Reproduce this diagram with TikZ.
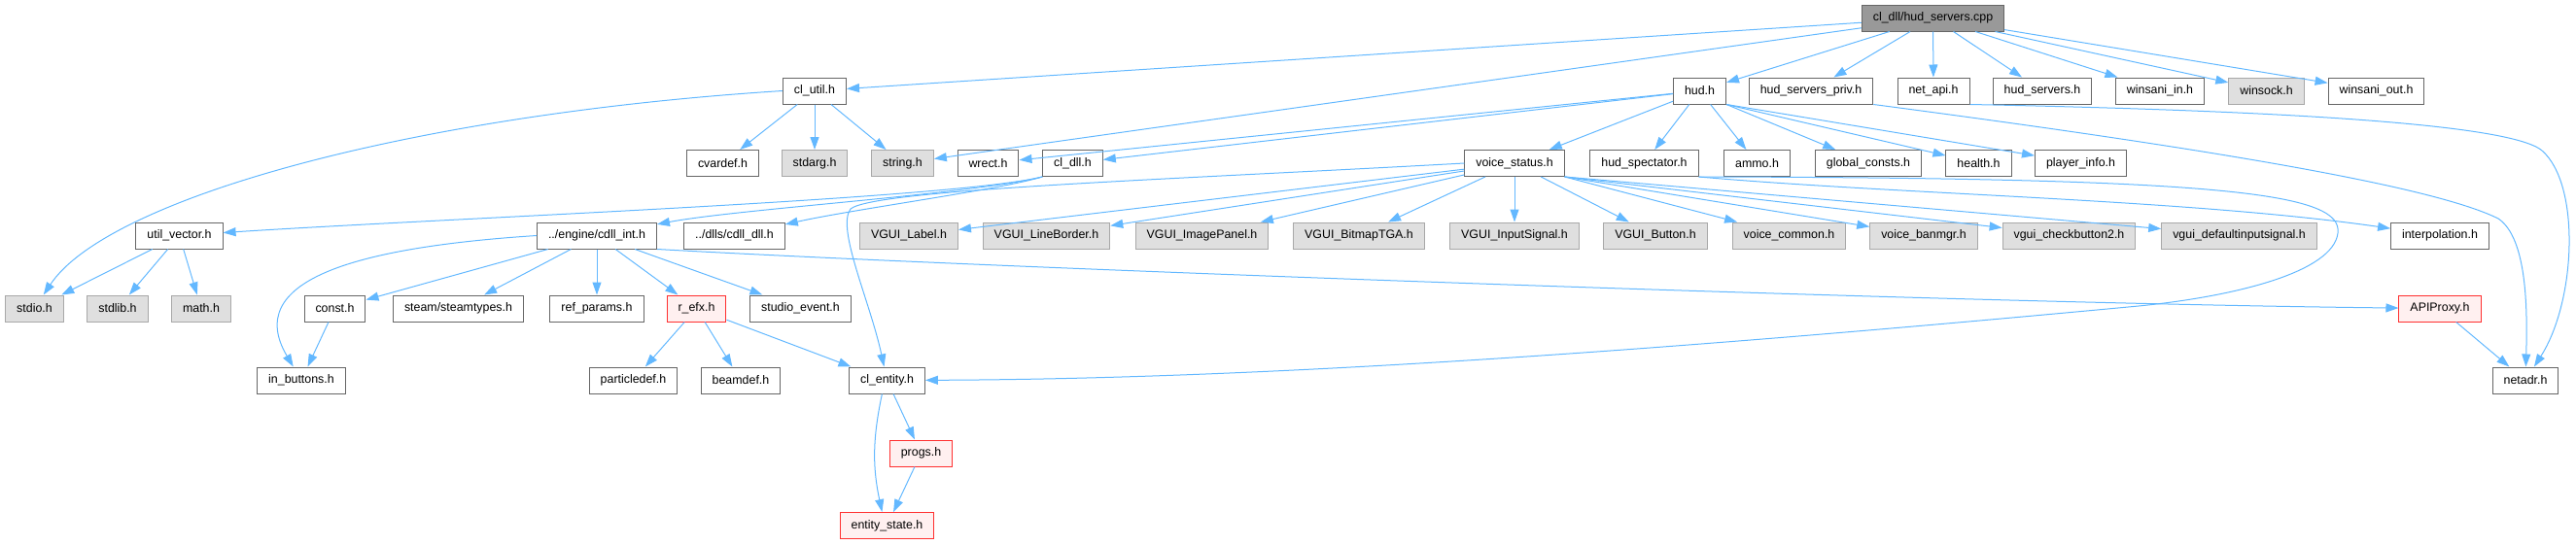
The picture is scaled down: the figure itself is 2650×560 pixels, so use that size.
\documentclass[tikz,border=0pt]{standalone}
\usepackage{fontspec}
\setmainfont{Liberation Sans}
\usepackage{tikz}
\usetikzlibrary{arrows.meta}
\definecolor{dxEdge}{HTML}{63B8FF}
\definecolor{dxLine}{HTML}{666666}
\definecolor{dxExtLine}{HTML}{A8A8A8}
\definecolor{dxExtFill}{HTML}{DFDFDF}
\definecolor{dxRoot}{HTML}{999999}
\definecolor{dxCut}{HTML}{FFF0F0}
\definecolor{dxCutLine}{HTML}{FF3030}

\begin{document}
\begin{tikzpicture}[x=1pt,y=-1pt,
  hdr/.style={draw=dxLine, fill=white, line width=1pt, minimum height=27pt,
    inner xsep=11.5pt, inner ysep=0pt, font=\fontsize{12.4}{14}\selectfont},
  exthdr/.style={hdr, draw=dxExtLine, fill=dxExtFill},
  cuthdr/.style={hdr, draw=dxCutLine, fill=dxCut},
  roothdr/.style={hdr, fill=dxRoot},
  inc/.style={draw=dxEdge, line width=1pt, -{Triangle[length=13pt,width=9pt]}}]
\useasboundingbox (0,0) rectangle (2650,560);
\node[roothdr] (root) at (1988.5,18.5) {cl\_dll/hud\_servers.cpp};
\node[hdr] (cutil) at (838,93.5) {cl\_util.h};
\node[hdr] (hud) at (1748.5,93.5) {hud.h};
\node[hdr] (hspriv) at (1863,93.5) {hud\_servers\_priv.h};
\node[hdr] (netapi) at (1989,93.5) {net\_api.h};
\node[hdr] (hserv) at (2101,93.5) {hud\_servers.h};
\node[hdr] (wsin) at (2222,93.5) {winsani\_in.h};
\node[exthdr] (wsock) at (2331.5,93.5) {winsock.h};
\node[hdr] (wsout) at (2444.5,93.5) {winsani\_out.h};
\node[hdr] (cvardef) at (743.5,168) {cvardef.h};
\node[exthdr] (stdarg) at (838,168) {stdarg.h};
\node[exthdr] (strh) at (928.5,168) {string.h};
\node[hdr] (wrect) at (1016.5,168) {wrect.h};
\node[hdr] (cldll) at (1103.5,168) {cl\_dll.h};
\node[hdr] (vstat) at (1558,168) {voice\_status.h};
\node[hdr] (hspec) at (1691.5,168) {hud\_spectator.h};
\node[hdr] (ammo) at (1807.5,168) {ammo.h};
\node[hdr] (gconst) at (1922,168) {global\_consts.h};
\node[hdr] (health) at (2035.5,168) {health.h};
\node[hdr] (pinfo) at (2140.5,168) {player\_info.h};
\node[hdr] (uvec) at (184.5,242.5) {util\_vector.h};
\node[hdr] (cdllint) at (614,242.5) {../engine/cdll\_int.h};
\node[hdr] (cdlldll) at (755.5,242.5) {../dlls/cdll\_dll.h};
\node[exthdr] (vlabel) at (935,242.5) {VGUI\_Label.h};
\node[exthdr] (vlborder) at (1076.5,242.5) {VGUI\_LineBorder.h};
\node[exthdr] (vipanel) at (1236.5,242.5) {VGUI\_ImagePanel.h};
\node[exthdr] (vbitmap) at (1398,242.5) {VGUI\_BitmapTGA.h};
\node[exthdr] (vinput) at (1558,242.5) {VGUI\_InputSignal.h};
\node[exthdr] (vbutton) at (1703,242.5) {VGUI\_Button.h};
\node[exthdr] (vcommon) at (1840.5,242.5) {voice\_common.h};
\node[exthdr] (vbanmgr) at (1979,242.5) {voice\_banmgr.h};
\node[exthdr] (vcheck) at (2128.5,242.5) {vgui\_checkbutton2.h};
\node[exthdr] (vdefin) at (2303.5,242.5) {vgui\_defaultinputsignal.h};
\node[hdr] (interp) at (2510,242.5) {interpolation.h};
\node[exthdr] (stdio) at (35.5,317.5) {stdio.h};
\node[exthdr] (stdlib) at (121,317.5) {stdlib.h};
\node[exthdr] (mathh) at (207,317.5) {math.h};
\node[hdr] (consth) at (344.5,317.5) {const.h};
\node[hdr] (steam) at (471.5,317.5) {steam/steamtypes.h};
\node[hdr] (refp) at (614,317.5) {ref\_params.h};
\node[cuthdr] (refx) at (716.5,317.5) {r\_efx.h};
\node[hdr] (studio) at (823.5,317.5) {studio\_event.h};
\node[cuthdr] (apiproxy) at (2510,317.5) {APIProxy.h};
\node[hdr] (inbtn) at (310,391.5) {in\_buttons.h};
\node[hdr] (partdef) at (651.5,391.5) {particledef.h};
\node[hdr] (beamdef) at (762,391.5) {beamdef.h};
\node[hdr] (clent) at (912.5,391.5) {cl\_entity.h};
\node[hdr] (netadr) at (2598,391.5) {netadr.h};
\node[cuthdr] (progs) at (947.5,466.5) {progs.h};
\node[cuthdr] (estate) at (912.5,541) {entity\_state.h};

\draw[inc] (root) -- (cutil);
\draw[inc] (root) -- (strh);
\draw[inc] (root) -- (hud);
\draw[inc] (root) -- (hspriv);
\draw[inc] (root) -- (netapi);
\draw[inc] (root) -- (hserv);
\draw[inc] (root) -- (wsin);
\draw[inc] (root) -- (wsock);
\draw[inc] (root) -- (wsout);
\draw[inc] (cutil) -- (cvardef);
\draw[inc] (cutil) -- (stdarg);
\draw[inc] (cutil) -- (strh);
\draw[inc] (cutil.west) .. controls (420,118) and (110,205) .. (stdio);
\draw[inc] (hud) -- (wrect);
\draw[inc] (hud) -- (cldll);
\draw[inc] (hud) -- (vstat);
\draw[inc] (hud) -- (hspec);
\draw[inc] (hud) -- (ammo);
\draw[inc] (hud.south east) -- (gconst);
\draw[inc] (hud.south east) -- (health);
\draw[inc] (hud.south east) -- (pinfo);
\draw[inc] (hspriv.south east) .. controls (2250,150) and (2500,190) .. (2570,225)
  .. controls (2600,245) and (2600,320) .. (netadr);
\draw[inc] (netapi.south east) .. controls (2300,113) and (2580,125) .. (2615,155)
  .. controls (2655,190) and (2650,310) .. (netadr);
\draw[inc] (cldll.south west) .. controls (980,205) and (450,225) .. (uvec);
\draw[inc] (cldll.south west) .. controls (1000,200) and (760,215) .. (cdllint);
\draw[inc] (cldll.south west) .. controls (1030,195) and (880,215) .. (cdlldll);
\draw[inc] (vstat.west) .. controls (1200,185) and (900,195) .. (875,215)
  .. controls (860,235) and (895,310) .. (clent);
\draw[inc] (vstat) -- (vlabel);
\draw[inc] (vstat) -- (vlborder);
\draw[inc] (vstat) -- (vipanel);
\draw[inc] (vstat) -- (vbitmap);
\draw[inc] (vstat) -- (vinput);
\draw[inc] (vstat) -- (vbutton);
\draw[inc] (vstat.south east) -- (vcommon);
\draw[inc] (vstat.south east) -- (vbanmgr);
\draw[inc] (vstat.south east) -- (vcheck);
\draw[inc] (vstat.south east) -- (vdefin);
\draw[inc] (hspec.south east) .. controls (1950,200) and (2250,205) .. (interp);
\draw[inc] (hspec.south east) .. controls (2300,183) and (2410,200) .. (2405,240)
  .. controls (2400,280) and (2300,305) .. (2200,315)
  .. controls (1700,362) and (1300,390) .. (clent);
\draw[inc] (uvec) -- (stdio);
\draw[inc] (uvec) -- (stdlib);
\draw[inc] (uvec) -- (mathh);
\draw[inc] (cdllint.west) .. controls (360,255) and (250,290) .. (inbtn);
\draw[inc] (cdllint) -- (consth);
\draw[inc] (cdllint) -- (steam);
\draw[inc] (cdllint) -- (refp);
\draw[inc] (cdllint) -- (refx);
\draw[inc] (cdllint) -- (studio);
\draw[inc] (cdllint.south east) .. controls (1000,275) and (2000,312) .. (apiproxy);
\draw[inc] (consth) -- (inbtn);
\draw[inc] (refx) -- (partdef);
\draw[inc] (refx) -- (beamdef);
\draw[inc] (refx) -- (clent);
\draw[inc] (clent) -- (progs);
\draw[inc] (clent.250) to[bend right=12] (estate.110);
\draw[inc] (progs) -- (estate);
\draw[inc] (apiproxy) -- (netadr);
\end{tikzpicture}
\end{document}
